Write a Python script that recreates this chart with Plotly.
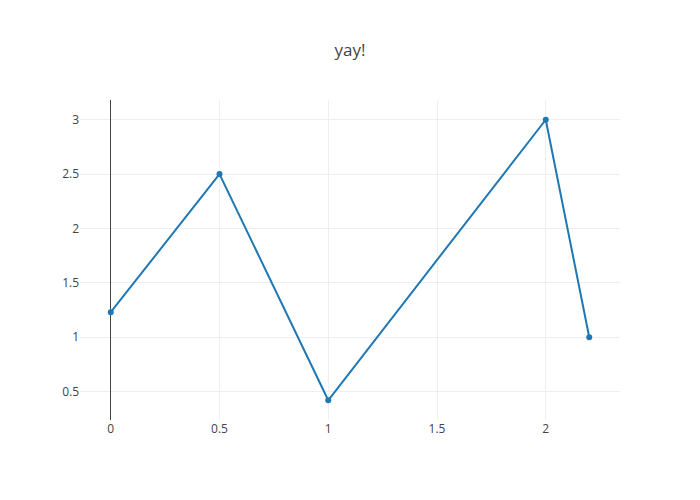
import plotly.graph_objects as go

x_values = [0, 0.5, 1, 2, 2.2]
y_values = [1.23, 2.5, 0.42, 3, 1]

fig = go.Figure()

fig.add_trace(go.Scatter(
    x=x_values,
    y=y_values,
    mode="lines+markers",
    line=dict(color="#1f77b4", width=2),
    marker=dict(color="#1f77b4", size=6),
))

# page body has an 8px margin, so shrink the margins to land the plot area
# where the reference has it
fig.update_layout(
    template="none",
    title=dict(text="yay!", x=0.5, xref="container", y=0.9132, yref="container", yanchor="middle"),
    font=dict(family="Open Sans, verdana, arial, sans-serif", color="#444"),
    showlegend=False,
    margin=dict(l=72, r=72, t=92, b=72),
    xaxis=dict(gridcolor="#eee", zerolinecolor="#444", zeroline=True),
    yaxis=dict(gridcolor="#eee", zerolinecolor="#444"),
)

fig.write_html("out.html")
